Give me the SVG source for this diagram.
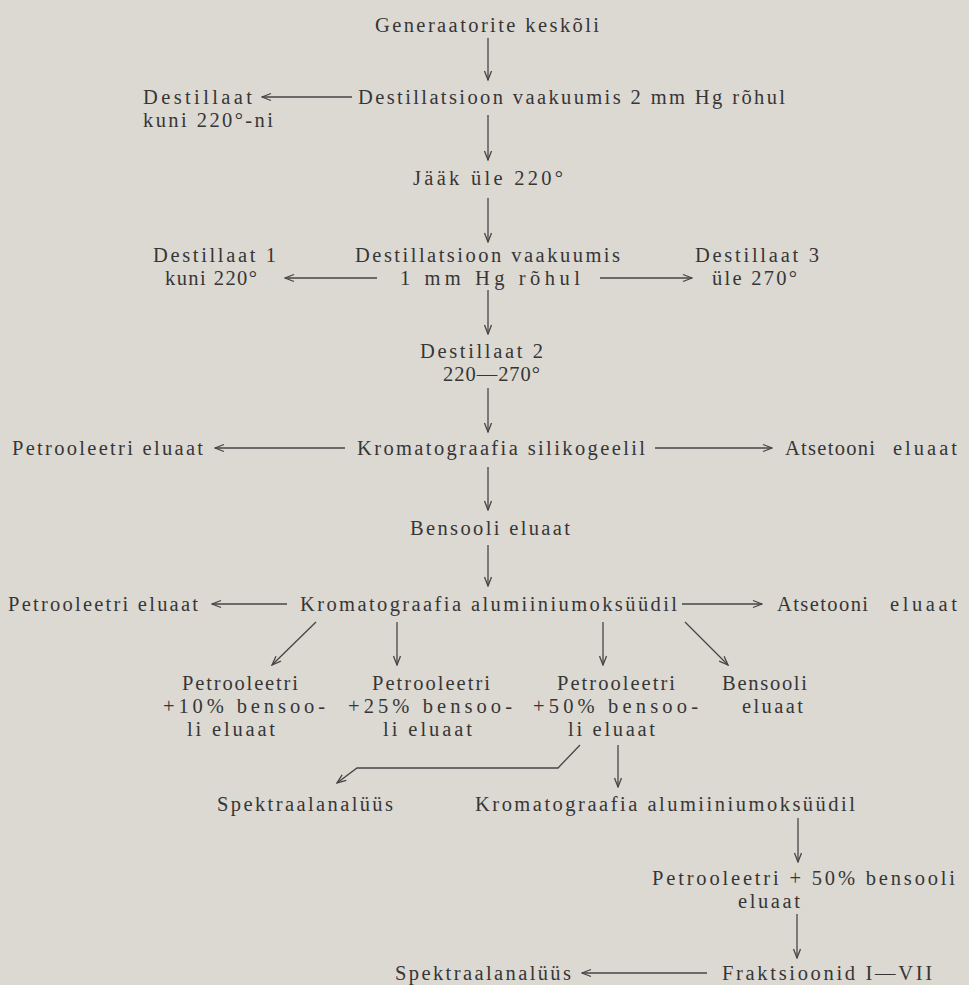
<svg xmlns="http://www.w3.org/2000/svg" width="969" height="985" viewBox="0 0 969 985">
<defs>
<style>
text { font-family: "Liberation Serif", "Times New Roman", serif; font-size: 20.5px; fill: #363636; }
.c line, .c polyline { stroke: #454545; stroke-width: 1.3; fill: none; marker-end: url(#ah); }
</style>
<marker id="ah" viewBox="-10 -5 11 10" refX="0" refY="0" markerWidth="11" markerHeight="10" markerUnits="userSpaceOnUse" orient="auto">
<path d="M-9,-3.5 L0,0 L-9,3.5" fill="none" stroke="#454545" stroke-width="1.3"/>
</marker>
</defs>
<rect x="0" y="0" width="969" height="985" fill="#dcd9d3"/>

<g id="n-gen"><text x="375" y="32" textLength="224">Generaatorite keskõli</text></g>
<g id="n-dist2mm"><text x="358" y="104" textLength="427">Destillatsioon vaakuumis 2 mm Hg rõhul</text></g>
<g id="n-destillaat-220"><text x="143" y="104" textLength="109">Destillaat</text><text x="143" y="127" textLength="130">kuni 220°-ni</text></g>
<g id="n-jaak"><text x="413" y="185" textLength="150">Jääk üle 220°</text></g>
<g id="n-dist1mm"><text x="355" y="262" textLength="265">Destillatsioon vaakuumis</text><text x="400" y="285" textLength="180">1 mm Hg rõhul</text></g>
<g id="n-destillaat1"><text x="153" y="262" textLength="123">Destillaat 1</text><text x="165" y="285" textLength="92">kuni 220°</text></g>
<g id="n-destillaat3"><text x="695" y="262" textLength="124">Destillaat 3</text><text x="712" y="285" textLength="85">üle 270°</text></g>
<g id="n-destillaat2"><text x="420" y="358" textLength="123">Destillaat 2</text><text x="443" y="381" textLength="97">220—270°</text></g>
<g id="n-krom-sil"><text x="357" y="455" textLength="288">Kromatograafia silikogeelil</text></g>
<g id="n-petr1"><text x="12" y="455" textLength="191">Petrooleetri eluaat</text></g>
<g id="n-ats1"><text y="455"><tspan x="785" textLength="90">Atsetooni</tspan> <tspan x="893" textLength="64">eluaat</tspan></text></g>
<g id="n-bens"><text x="410" y="535" textLength="160">Bensooli eluaat</text></g>
<g id="n-krom-al1"><text x="300" y="611" textLength="377">Kromatograafia alumiiniumoksüüdil</text></g>
<g id="n-petr2"><text x="8" y="611" textLength="190">Petrooleetri eluaat</text></g>
<g id="n-ats2"><text y="611"><tspan x="777" textLength="91">Atsetooni</tspan> <tspan x="890" textLength="67">eluaat</tspan></text></g>
<g id="n-p10"><text x="182" y="690" textLength="116">Petrooleetri</text><text x="163" y="713" textLength="162">+10% bensoo-</text><text x="187" y="736" textLength="88">li eluaat</text></g>
<g id="n-p25"><text x="372" y="690" textLength="118">Petrooleetri</text><text x="348" y="713" textLength="164">+25% bensoo-</text><text x="383" y="736" textLength="89">li eluaat</text></g>
<g id="n-p50"><text x="557" y="690" textLength="118">Petrooleetri</text><text x="533" y="713" textLength="165">+50% bensoo-</text><text x="568" y="736" textLength="87">li eluaat</text></g>
<g id="n-bens2"><text x="722" y="690" textLength="85">Bensooli</text><text x="742" y="713" textLength="61">eluaat</text></g>
<g id="n-spek1"><text x="217" y="811" textLength="176">Spektraalanalüüs</text></g>
<g id="n-krom-al2"><text x="475" y="811" textLength="380">Kromatograafia alumiiniumoksüüdil</text></g>
<g id="n-petr50b"><text x="652" y="885" textLength="303">Petrooleetri + 50% bensooli</text><text x="738" y="908" textLength="62">eluaat</text></g>
<g id="n-spek2"><text x="395" y="980" textLength="176">Spektraalanalüüs</text></g>
<g id="n-frak"><text x="722" y="980" textLength="210">Fraktsioonid I—VII</text></g>

<g id="connectors" class="c">
<line x1="488" y1="38" x2="488" y2="80"/>
<line x1="352" y1="97" x2="262" y2="97"/>
<line x1="488" y1="115" x2="488" y2="160"/>
<line x1="488" y1="198" x2="488" y2="242"/>
<line x1="377" y1="278" x2="285" y2="278"/>
<line x1="600" y1="278" x2="692" y2="278"/>
<line x1="488" y1="290" x2="488" y2="334"/>
<line x1="488" y1="388" x2="488" y2="432"/>
<line x1="345" y1="448" x2="215" y2="448"/>
<line x1="655" y1="448" x2="772" y2="448"/>
<line x1="488" y1="467" x2="488" y2="510"/>
<line x1="488" y1="545" x2="488" y2="586"/>
<line x1="287" y1="604" x2="212" y2="604"/>
<line x1="682" y1="604" x2="762" y2="604"/>
<line x1="316" y1="622" x2="272" y2="665"/>
<line x1="397" y1="622" x2="397" y2="665"/>
<line x1="603" y1="622" x2="603" y2="665"/>
<line x1="685" y1="622" x2="728" y2="665"/>
<polyline points="580,745 558,768 357,768 337,783"/>
<line x1="618" y1="745" x2="618" y2="787"/>
<line x1="798" y1="818" x2="798" y2="862"/>
<line x1="797" y1="914" x2="797" y2="958"/>
<line x1="707" y1="973" x2="582" y2="973"/>
</g>
</svg>
